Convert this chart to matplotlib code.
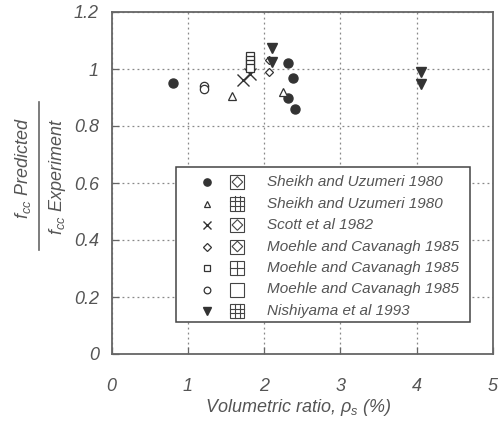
import matplotlib
matplotlib.use("Agg")
import matplotlib.pyplot as plt
from matplotlib.patches import Rectangle, Polygon
from matplotlib.lines import Line2D

plt.rcParams['font.family'] = ['Liberation Sans', 'DejaVu Sans']
plt.rcParams['font.style'] = 'italic'
plt.rcParams['mathtext.fontset'] = 'custom'
plt.rcParams['mathtext.it'] = 'Liberation Sans:italic'
plt.rcParams['mathtext.rm'] = 'Liberation Sans:italic'
plt.rcParams['mathtext.default'] = 'it'

# data: volumetric ratio (%) and predicted / experimental strength
sheikh_a_x = [0.80, 2.31, 2.38, 2.31, 2.40]
sheikh_a_y = [0.952, 1.022, 0.969, 0.898, 0.859]
sheikh_b_x = [1.58, 2.25]
sheikh_b_y = [0.906, 0.918]
scott_x = [1.73, 1.81]
scott_y = [0.961, 0.982]
moehle_a_x = [2.07, 2.07]
moehle_a_y = [1.032, 0.991]
moehle_b_x = [1.82, 1.82, 1.82, 1.82]
moehle_b_y = [1.046, 1.032, 1.018, 1.004]
moehle_c_x = [1.21, 1.21]
moehle_c_y = [0.940, 0.929]
nishi_x = [2.10, 2.10, 4.05, 4.05]
nishi_y = [1.075, 1.026, 0.991, 0.948]

labels = ["Sheikh and Uzumeri 1980", "Sheikh and Uzumeri 1980", "Scott et al 1982",
          "Moehle and Cavanagh 1985", "Moehle and Cavanagh 1985",
          "Moehle and Cavanagh 1985", "Nishiyama et al 1993"]
sections = ["diamond", "grid", "diamond", "diamond", "cross", "empty", "grid"]

ink = '#333333'
txt = '#555555'

fig = plt.figure(figsize=(5.03, 4.21), dpi=100)
W, H = 503, 421
ax = fig.add_axes([111.5 / W, 1 - 354 / H, 381.5 / W, 342 / H])

series = [
    (sheikh_a_x, sheikh_a_y, dict(marker='o', ms=6.5, mfc=ink, mec=ink)),
    (sheikh_b_x, sheikh_b_y, dict(marker='^', ms=6, mfc='white', mec=ink, mew=0.9)),
    (scott_x, scott_y, dict(marker='x', ms=8, mec=ink, mew=1.0)),
    (moehle_a_x, moehle_a_y, dict(marker='D', ms=4.5, mfc='white', mec=ink, mew=0.9)),
    (moehle_b_x, moehle_b_y, dict(marker='s', ms=6, mfc='white', mec=ink, mew=0.9)),
    (moehle_c_x, moehle_c_y, dict(marker='o', ms=6, mfc='white', mec=ink, mew=0.9)),
    (nishi_x, nishi_y, dict(marker='v', ms=7, mfc=ink, mec=ink)),
]
for xs, ys, st in series:
    ax.plot(xs, ys, ls='none', zorder=3, **st)

ax.set_xlim(0, 5)
ax.set_ylim(0, 1.2)
ax.set_xticks([0, 1, 2, 3, 4, 5])
ax.set_yticks([0, 0.2, 0.4, 0.6, 0.8, 1.0, 1.2])
ax.set_xticklabels(['0', '1', '2', '3', '4', '5'])
ax.set_yticklabels(['0', '0.2', '0.4', '0.6', '0.8', '1', '1.2'])
ax.tick_params(direction='in', length=5, width=0.9, color='#666666',
               labelsize=13, labelcolor=txt)
ax.tick_params(axis='x', pad=17)
ax.tick_params(axis='y', pad=9)
ax.grid(True, ls=(0, (1.5, 2.5)), color='#888888', lw=0.9)
for s in ax.spines.values():
    s.set_color('#666666')
    s.set_linewidth(1.3)

# legend drawn by hand so each entry carries its section sketch
ax.add_patch(Rectangle((0.168, 0.094), 0.772, 0.453, transform=ax.transAxes,
                       fc='white', ec='#444444', lw=1.1, zorder=5))
row_y = [(354 - py) / 342 for py in [182, 203.5, 225, 246.5, 268, 289.5, 311]]
iw, ih = 14 / 381.5, 14 / 342
ic = 0.330
for (xs, ys, st), lab, sec, yy in zip(series, labels, sections, row_y):
    st2 = dict(st)
    st2['ms'] = st['ms'] * 0.8
    ax.add_line(Line2D([0.251], [yy], transform=ax.transAxes, ls='none', zorder=6, **st2))
    x0, y0 = ic - iw / 2, yy - ih / 2
    kw = dict(transform=ax.transAxes, color='#444444', lw=0.8, zorder=6)
    ax.add_patch(Rectangle((x0, y0), iw, ih, transform=ax.transAxes,
                           fc='white', ec='#444444', lw=0.8, zorder=6))
    if sec == "diamond":
        dx, dy = iw * 0.12, ih * 0.12
        pts = [(x0 + dx, yy), (ic, y0 + ih - dy), (x0 + iw - dx, yy), (ic, y0 + dy)]
        ax.add_patch(Polygon(pts, closed=True, transform=ax.transAxes,
                             fc='none', ec='#444444', lw=0.8, zorder=6))
    elif sec == "cross":
        ax.add_line(Line2D([ic, ic], [y0, y0 + ih], **kw))
        ax.add_line(Line2D([x0, x0 + iw], [yy, yy], **kw))
    elif sec == "grid":
        for f in (1 / 3, 2 / 3):
            ax.add_line(Line2D([x0 + f * iw] * 2, [y0, y0 + ih], **kw))
            ax.add_line(Line2D([x0, x0 + iw], [y0 + f * ih] * 2, **kw))
    ax.text(0.408, yy, lab, transform=ax.transAxes, fontsize=11, color=txt,
            va='center', ha='left', zorder=6)

fig.text(298 / W, 1 - 407 / H, r"Volumetric ratio, $\rho_s$ (%)", fontsize=13,
         color=txt, ha='center', va='center')

# y label as a fraction
fig.text(23 / W, 1 - 168 / H, r"$f_{cc}$ Predicted", fontsize=13, color=txt,
         rotation=90, ha='center', va='center')
fig.text(58 / W, 1 - 177 / H, r"$f_{cc}$ Experiment", fontsize=13, color=txt,
         rotation=90, ha='center', va='center')
fig.add_artist(Line2D([39 / W, 39 / W], [1 - 102 / H, 1 - 250 / H],
                      transform=fig.transFigure, color='#666666', lw=1.2))

fig.savefig("out.png", dpi=100)
